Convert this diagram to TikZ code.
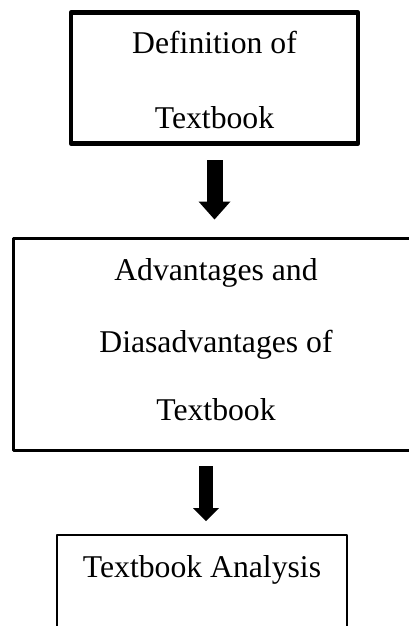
\documentclass[tikz,border=0pt]{standalone}
\usepackage{fontspec}
\setmainfont{Liberation Serif}
\usetikzlibrary{arrows.meta, positioning, calc}

\begin{document}
\begin{tikzpicture}[x=1pt, y=1pt,
        box/.style={draw=black, rectangle, inner sep=0pt, outer sep=0pt, line join=round},
        boxtext/.style={anchor=base, inner sep=0pt, font=\fontsize{31.7}{38}\selectfont},
        blockarrow/.style={draw=black, line cap=butt}]
        \useasboundingbox (0,0) rectangle (408,-626);
        \node[box, line width=4.5pt, minimum width=287pt, minimum height=131pt] (def) at (214.5,-78) {};
        \node[box, line width=3pt, minimum width=403pt, minimum height=212pt] (adv) at (215,-344.5) {};
        \node[box, line width=2pt, minimum width=290pt, minimum height=130pt] (ana) at (202,-600) {};
        \node[boxtext] (def1) at (214.5,-54) {Definition of};
        \node[boxtext] (def2) at (214.5,-128) {Textbook};
        \node[boxtext] (adv1) at (216,-280) {Advantages and};
        \node[boxtext] (adv2) at (216,-352) {Diasadvantages of};
        \node[boxtext] (adv3) at (216,-420) {Textbook};
        \node[boxtext] (ana1) at (202,-577.5) {Textbook Analysis};
        \draw[blockarrow, line width=16pt, -{Triangle[length=18pt, width=32pt, line width=0pt]}, shorten <=16.5pt, shorten >=19pt] (def.south) -- (def.south |- adv.north);
        \draw[blockarrow, line width=13.5pt, -{Triangle[length=13pt, width=26pt, line width=0pt]}, shorten <=15.5pt, shorten >=14pt] ([xshift=-9pt]adv.south) -- ([xshift=-9pt]adv.south |- ana.north);
    \end{tikzpicture}
\end{document}
